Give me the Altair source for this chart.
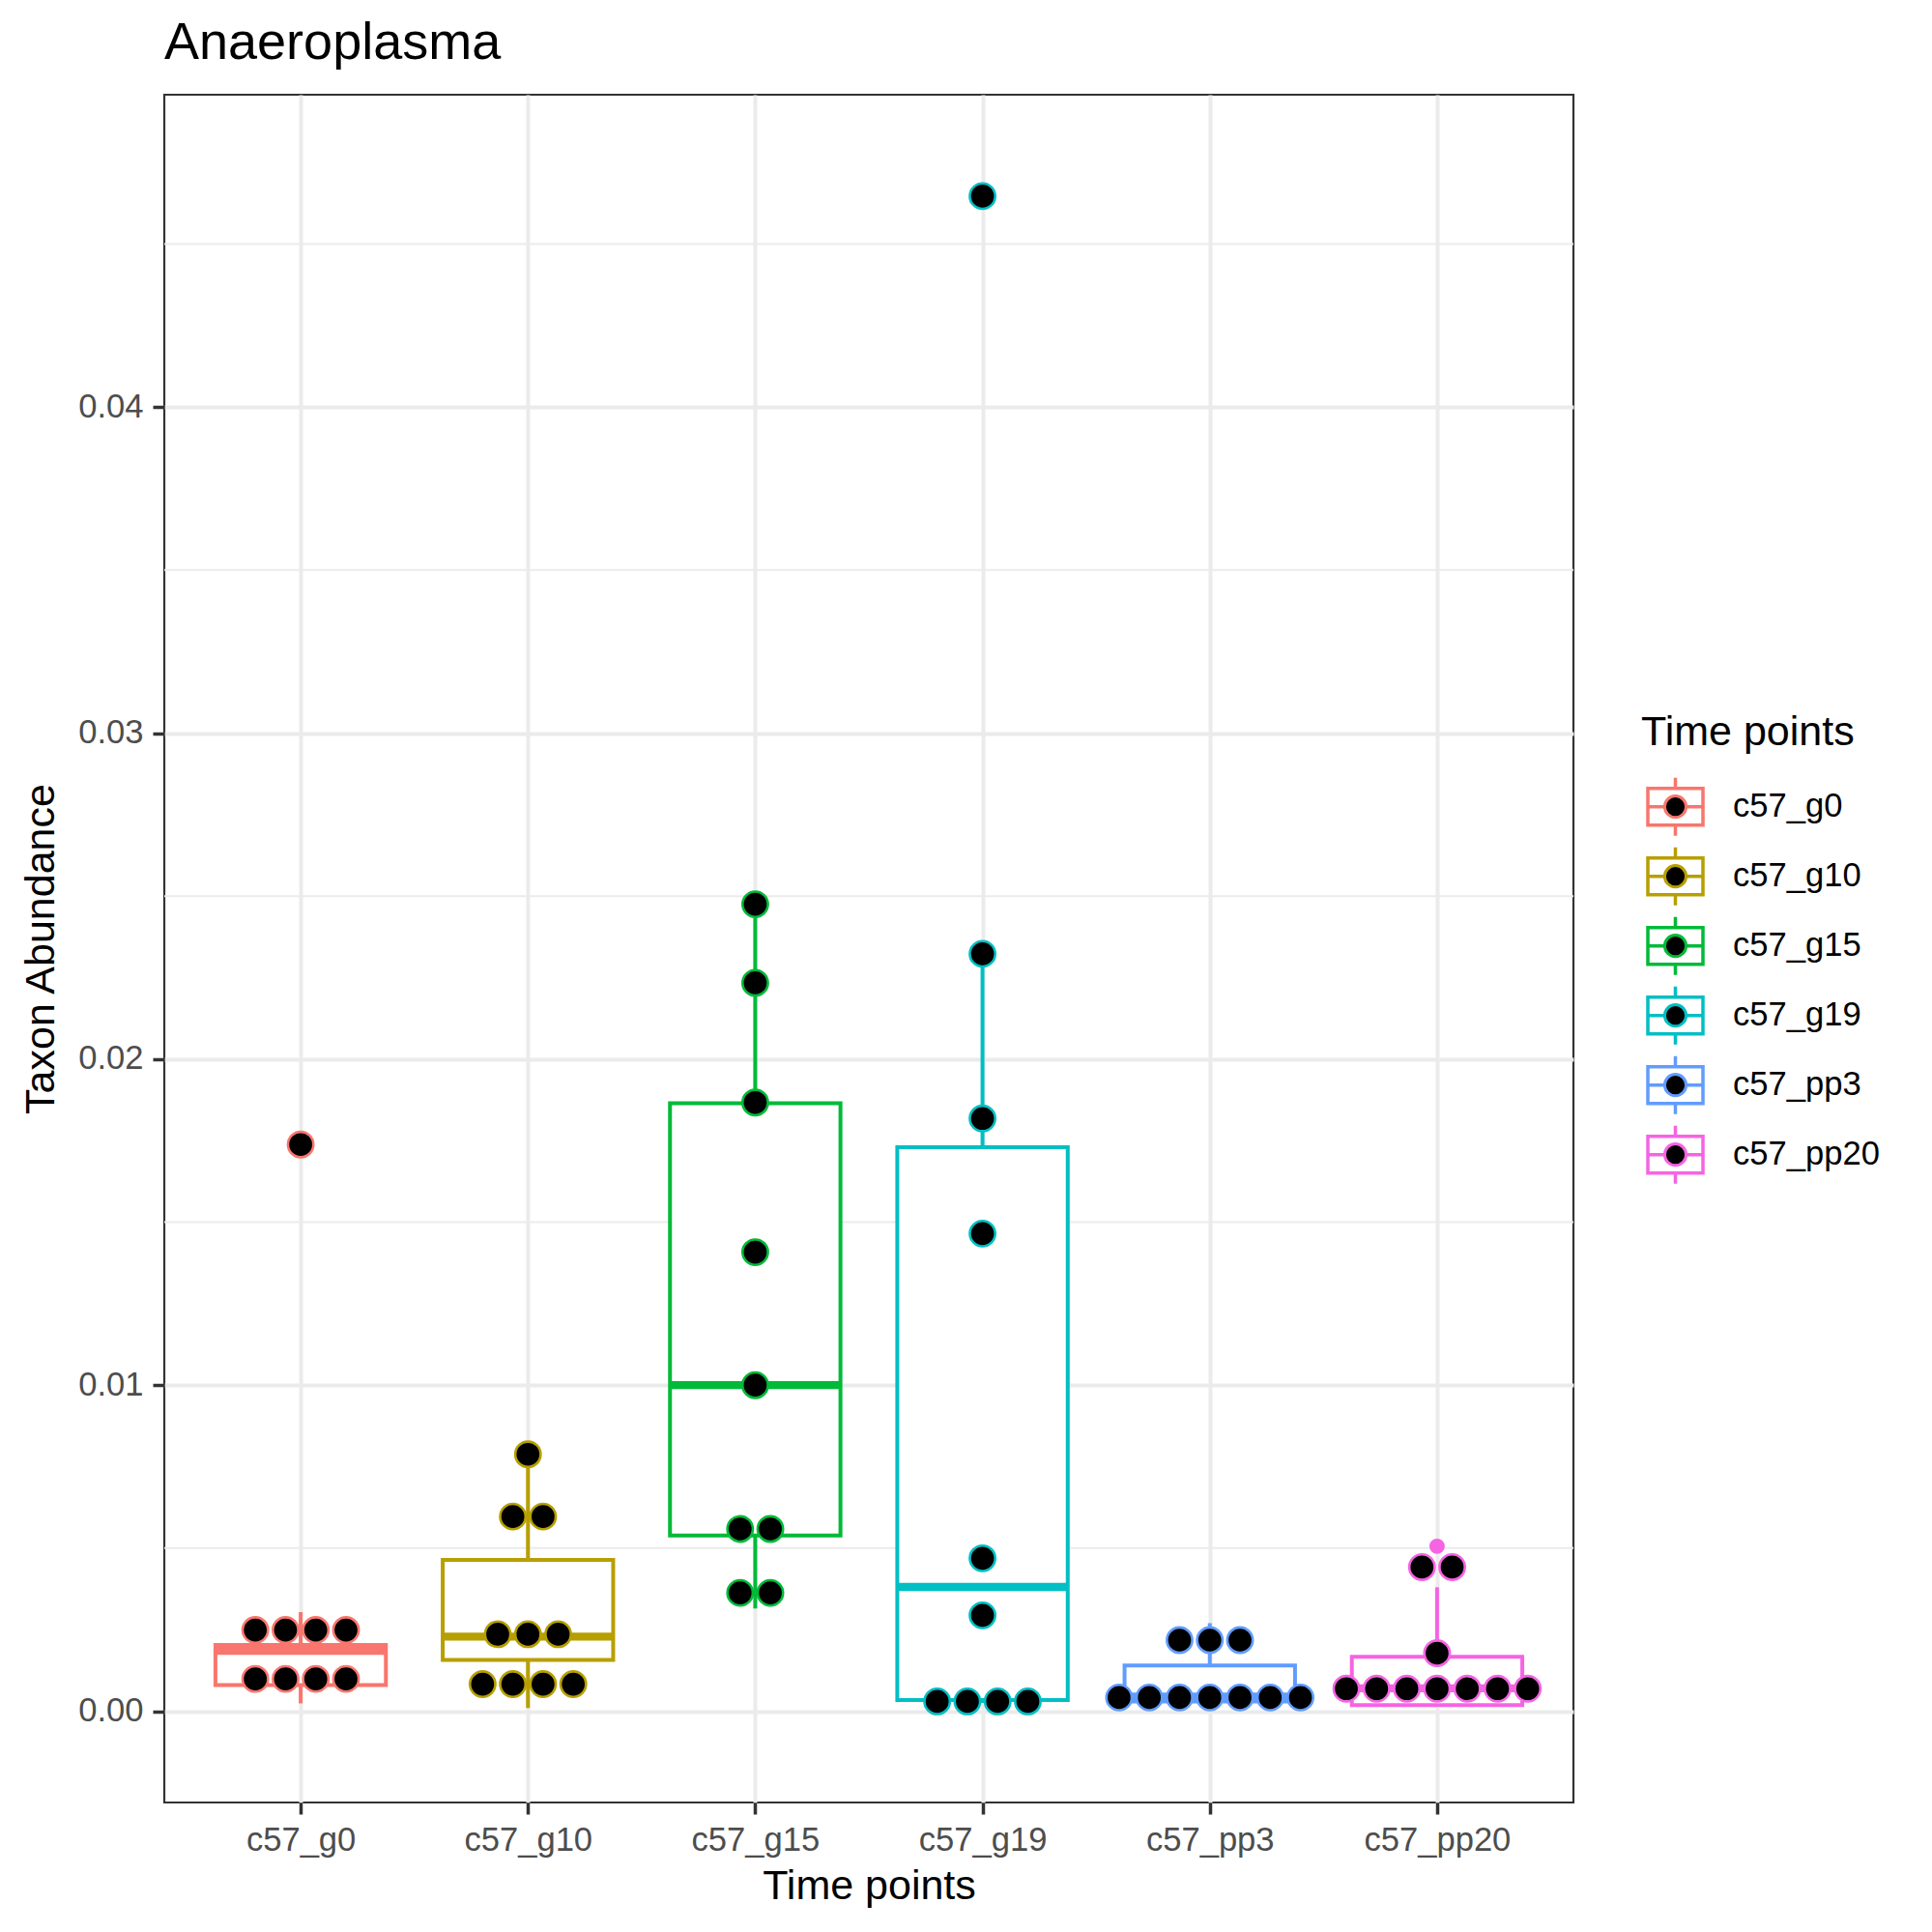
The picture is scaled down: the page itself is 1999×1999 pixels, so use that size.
import json
import pandas as pd
import altair as alt

# ---------------- data ----------------
title_text = "Anaeroplasma"
x_title = "Time points"
y_title = "Taxon Abundance"
legend_title = "Time points"

categories = ["c57_g0", "c57_g10", "c57_g15", "c57_g19", "c57_pp3", "c57_pp20"]
palette = ["#F8766D", "#B79F00", "#00BA38", "#00BFC4", "#619CFF", "#F564E3"]

# boxplot statistics per time point
whisker_low = [0.00024, 0.00010, 0.00315, 0.00025, 0.00020, 0.00015]
q1 = [0.00080, 0.00157, 0.00539, 0.00034, 0.00030, 0.00019]
median = [0.00185, 0.00229, 0.01000, 0.00381, 0.00045, 0.00070]
q3 = [0.00203, 0.00464, 0.01865, 0.01730, 0.00140, 0.00167]
whisker_high = [0.00304, 0.00788, 0.02475, 0.02323, 0.00270, 0.00380]

# boxplot outliers
outlier_cats = ["c57_g0", "c57_g19", "c57_pp20"]
outlier_values = [0.01738, 0.04647, 0.00506]

# dot-plot positions (one entry per sample)
dots_g0 = [0.01738, 0.00249, 0.00249, 0.00249, 0.00249, 0.00099, 0.00099, 0.00099, 0.00099]
dots_g10 = [0.00788, 0.00597, 0.00597, 0.00236, 0.00236, 0.00236, 0.00083, 0.00083, 0.00083, 0.00083]
dots_g15 = [0.02475, 0.02234, 0.01867, 0.01408, 0.01000, 0.00559, 0.00559, 0.00363, 0.00363]
dots_g19 = [0.04647, 0.02323, 0.01818, 0.01465, 0.00469, 0.00294, 0.00030, 0.00030, 0.00030, 0.00030]
dots_pp3 = [0.00218, 0.00218, 0.00218, 0.00042, 0.00042, 0.00042, 0.00042, 0.00042, 0.00042, 0.00042]
dots_pp20 = [0.00442, 0.00442, 0.00178, 0.00069, 0.00069, 0.00069, 0.00069, 0.00069, 0.00069, 0.00069]

y_major = [0.0, 0.01, 0.02, 0.03, 0.04]
y_minor = [0.005, 0.015, 0.025, 0.035, 0.045]

# ---------------- style ----------------
FONT = "Liberation Sans"
W, H = 1458, 1767
PAD = {"left": 170, "top": 98, "right": 371, "bottom": 134}
box_half = 0.375
dot_step = 0.133
y_domain = [-0.0028, 0.04958]
x_domain = [0.4, 6.6]

# ---------------- tables ----------------
box_df = pd.DataFrame({
    "cat": categories,
    "idx": list(range(1, len(categories) + 1)),
    "lo": whisker_low, "q1": q1, "med": median, "q3": q3, "hi": whisker_high,
})
box_df["x_lo"] = box_df["idx"] - box_half
box_df["x_hi"] = box_df["idx"] + box_half

out_df = pd.DataFrame({"cat": outlier_cats, "v": outlier_values})
out_df["idx"] = out_df["cat"].map({c: i + 1 for i, c in enumerate(categories)})

dot_lists = [dots_g0, dots_g10, dots_g15, dots_g19, dots_pp3, dots_pp20]
rows = []
for i, (cat, vals) in enumerate(zip(categories, dot_lists)):
    uniq = []
    for v in vals:
        if v not in uniq:
            uniq.append(v)
    for u in uniq:
        n = vals.count(u)
        for k in range(n):
            rows.append({"cat": cat, "x": i + 1 + (k - (n - 1) / 2) * dot_step, "v": u})
dots_df = pd.DataFrame(rows)

minor_df = pd.DataFrame({"v": y_minor})
leg_df = pd.DataFrame({"cat": categories})
leg_title_df = pd.DataFrame({"t": [legend_title]})

# ---------------- scales / axes ----------------
color_scale = alt.Scale(domain=categories, range=palette)
yscale = alt.Scale(domain=y_domain, nice=False, zero=False)
xscale = alt.Scale(domain=x_domain, nice=False, zero=False)

yaxis = alt.Axis(
    values=y_major, format=".2f", grid=True, gridColor="#EBEBEB", gridWidth=4,
    domain=False, tickColor="#333333", tickWidth=3.5, tickSize=12,
    labelPadding=10, labelFont=FONT, labelFontSize=34.6, labelColor="#4D4D4D",
    title=y_title, titleFont=FONT, titleFontSize=43, titleFontWeight="normal",
    titleColor="black", titlePadding=16, labelFlush=False, labelOverlap=False,
)
xaxis = alt.Axis(
    values=list(range(1, len(categories) + 1)),
    labelExpr="%s[datum.value - 1]" % json.dumps(categories),
    grid=True, gridColor="#EBEBEB", gridWidth=4,
    domain=False, tickColor="#333333", tickWidth=3.5, tickSize=12,
    labelPadding=10, labelFont=FONT, labelFontSize=34.6, labelColor="#4D4D4D",
    title=x_title, titleFont=FONT, titleFontSize=43, titleFontWeight="normal",
    titleColor="black", titlePadding=10, labelFlush=False, labelOverlap=False,
)

# ---------------- main panel ----------------
minor_grid = alt.Chart(minor_df).mark_rule(color="#EBEBEB", strokeWidth=2).encode(
    y=alt.Y("v:Q", scale=yscale, axis=yaxis)
)

whiskers = alt.Chart(box_df).mark_rule(strokeWidth=4).encode(
    x=alt.X("idx:Q", scale=xscale, axis=xaxis),
    y=alt.Y("lo:Q", scale=yscale, axis=yaxis),
    y2="hi:Q",
    color=alt.Color("cat:N", scale=color_scale, legend=None),
)

boxes = alt.Chart(box_df).mark_bar(fill="white", strokeWidth=4, fillOpacity=1).encode(
    x=alt.X("x_lo:Q", scale=xscale, axis=xaxis),
    x2="x_hi:Q",
    y=alt.Y("q1:Q", scale=yscale, axis=yaxis),
    y2="q3:Q",
    stroke=alt.Stroke("cat:N", scale=color_scale, legend=None),
)

medians = alt.Chart(box_df).mark_rule(strokeWidth=8.3).encode(
    x=alt.X("x_lo:Q", scale=xscale, axis=xaxis),
    x2="x_hi:Q",
    y=alt.Y("med:Q", scale=yscale, axis=yaxis),
    color=alt.Color("cat:N", scale=color_scale, legend=None),
)

outliers = alt.Chart(out_df).mark_circle(size=254, opacity=1).encode(
    x=alt.X("idx:Q", scale=xscale, axis=xaxis),
    y=alt.Y("v:Q", scale=yscale, axis=yaxis),
    color=alt.Color("cat:N", scale=color_scale, legend=None),
)

dots = alt.Chart(dots_df).mark_circle(
    size=690, fill="black", fillOpacity=1, strokeWidth=2.6, strokeOpacity=1
).encode(
    x=alt.X("x:Q", scale=xscale, axis=xaxis),
    y=alt.Y("v:Q", scale=yscale, axis=yaxis),
    stroke=alt.Stroke("cat:N", scale=color_scale, legend=None),
)

main = alt.layer(minor_grid, whiskers, boxes, medians, outliers, dots)

# ---------------- legend (drawn as marks) ----------------
leg_y = alt.Y("cat:N", scale=alt.Scale(domain=categories, range=[736.7, 1096.7], padding=0), axis=None)
key_path = ("M-1,-0.667L1,-0.667L1,0.667L-1,0.667Z M-1,0L1,0 "
            "M0,-0.667L0,-1.053 M0,0.667L0,1.053")

leg_box = alt.Chart(leg_df).mark_point(
    shape=key_path, size=3249, filled=True, fill="white", fillOpacity=1,
    strokeWidth=3.5, strokeOpacity=1
).encode(
    x=alt.value(1563.5), y=leg_y,
    stroke=alt.Stroke("cat:N", scale=color_scale, legend=None),
)
leg_dot = alt.Chart(leg_df).mark_circle(
    size=491, fill="black", fillOpacity=1, strokeWidth=3, strokeOpacity=1
).encode(
    x=alt.value(1563.5), y=leg_y,
    stroke=alt.Stroke("cat:N", scale=color_scale, legend=None),
)
leg_text = alt.Chart(leg_df).mark_text(
    align="left", baseline="middle", font=FONT, fontSize=34.6, color="black"
).encode(x=alt.value(1623), y=leg_y, text="cat:N")
leg_title = alt.Chart(leg_title_df).mark_text(
    align="left", baseline="alphabetic", font=FONT, fontSize=43, color="black"
).encode(x=alt.value(1528), y=alt.value(673.4), text="t:N")

legend = alt.layer(leg_box, leg_dot, leg_text, leg_title)

chart = alt.layer(main, legend).resolve_scale(y="independent").properties(
    width=W, height=H,
    padding=PAD,
    autosize=alt.AutoSizeParams(type="none"),
    background="white",
    title=alt.TitleParams(
        title_text, anchor="start", frame="group", font=FONT, fontSize=54,
        fontWeight="normal", color="black", baseline="alphabetic", offset=-17,
    ),
).configure_view(stroke="#333333", strokeWidth=2.2, fill="white")

chart.save("out.html", embed_options={"renderer": "svg", "actions": False})
